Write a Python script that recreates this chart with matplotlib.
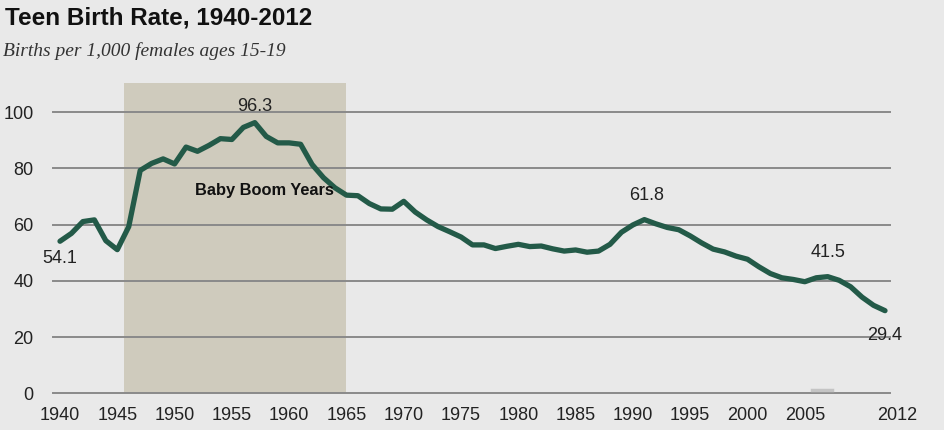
import matplotlib.pyplot as plt
from matplotlib.transforms import ScaledTranslation

# teen birth rate, births per 1,000 females ages 15-19
years = list(range(1940, 2013))
rates = [54.1, 56.9, 61.1, 61.7, 54.3, 51.1, 59.3, 79.3, 81.8, 83.4,
         81.6, 87.6, 86.1, 88.2, 90.6, 90.3, 94.6, 96.3, 91.4, 89.1,
         89.1, 88.6, 81.4, 76.7, 73.1, 70.5, 70.3, 67.5, 65.6, 65.5,
         68.3, 64.5, 61.7, 59.3, 57.5, 55.6, 52.8, 52.8, 51.5, 52.3,
         53.0, 52.2, 52.4, 51.4, 50.6, 51.0, 50.2, 50.6, 53.0, 57.3,
         59.9, 61.8, 60.3, 59.0, 58.2, 56.0, 53.5, 51.3, 50.3, 48.8,
         47.7, 45.0, 42.6, 41.1, 40.5, 39.7, 41.1, 41.5, 40.2, 37.9,
         34.2, 31.3, 29.4]

xticks = list(range(1940, 2010, 5)) + [2012]
yticks = [0, 20, 40, 60, 80, 100]

# labelled points: year, text offset in pixels
callouts = {1940: (0, -17), 1957: (0, 16), 1991: (2, 24), 2007: (0, 24), 2012: (0, -25)}

boom = (1945.6, 1965.0)

bg = '#e9e9e9'
green = '#235a48'

fig = plt.figure(figsize=(9.45, 4.3), dpi=100, facecolor=bg)
ax = fig.add_axes([53 / 945, 1 - 393.3 / 430, 837 / 945, (393.3 - 83) / 430])
ax.set_facecolor(bg)

ax.axvspan(boom[0], boom[1], color='#cfcbbd', zorder=1, lw=0)
for y in yticks:
    ax.axhline(y, color='#8a8a8a', lw=1.4, zorder=2, clip_on=False)

ax.plot(years, rates, color=green, lw=3.8, solid_joinstyle='round',
        solid_capstyle='round', zorder=3)

for yr, (dx, dy) in callouts.items():
    v = rates[years.index(yr)]
    ax.annotate(f'{v:.1f}', (yr, v), xytext=(dx, dy), textcoords='offset pixels',
                ha='center', va='center', fontsize=13, color='#222222',
                fontfamily='Liberation Sans', zorder=4)

ax.text(1957.8, 72.2, 'Baby Boom Years', ha='center', va='center', fontsize=11.8,
        fontweight='bold', color='#111111', fontfamily='Liberation Sans', zorder=4)

# small light mark above the baseline
ax.plot([2005.6, 2007.4], [1.2, 1.2], color='#c4c4c4', lw=2.5, zorder=2)

ax.set_xlim(1940 - 7 / 11.46, 2012 + 5 / 11.46)
ax.set_ylim(0, 110.4)
ax.set_xticks(xticks)
ax.set_yticks(yticks)
ax.tick_params(length=0, labelsize=13, colors='#222222')
ax.tick_params(axis='x', pad=10)
ax.tick_params(axis='y', pad=14)
for lab in ax.get_xticklabels() + ax.get_yticklabels():
    lab.set_fontfamily('Liberation Sans')
# the 2012 label sits a little right of its year
last = ax.xaxis.get_major_ticks()[-1].label1
last.set_transform(last.get_transform() + ScaledTranslation(0.12, 0, fig.dpi_scale_trans))
for s in ax.spines.values():
    s.set_visible(False)

fig.text(5 / 945, 1 - 18 / 430, 'Teen Birth Rate, 1940-2012', ha='left', va='center',
         fontsize=17.5, fontweight='bold', color='#111111', fontfamily='Liberation Sans')
fig.text(3 / 945, 1 - 51 / 430, 'Births per 1,000 females ages 15-19', ha='left',
         va='center', fontsize=14, style='italic', color='#333333',
         fontfamily='Liberation Serif')

fig.savefig('out.png', dpi=100, facecolor=bg)
